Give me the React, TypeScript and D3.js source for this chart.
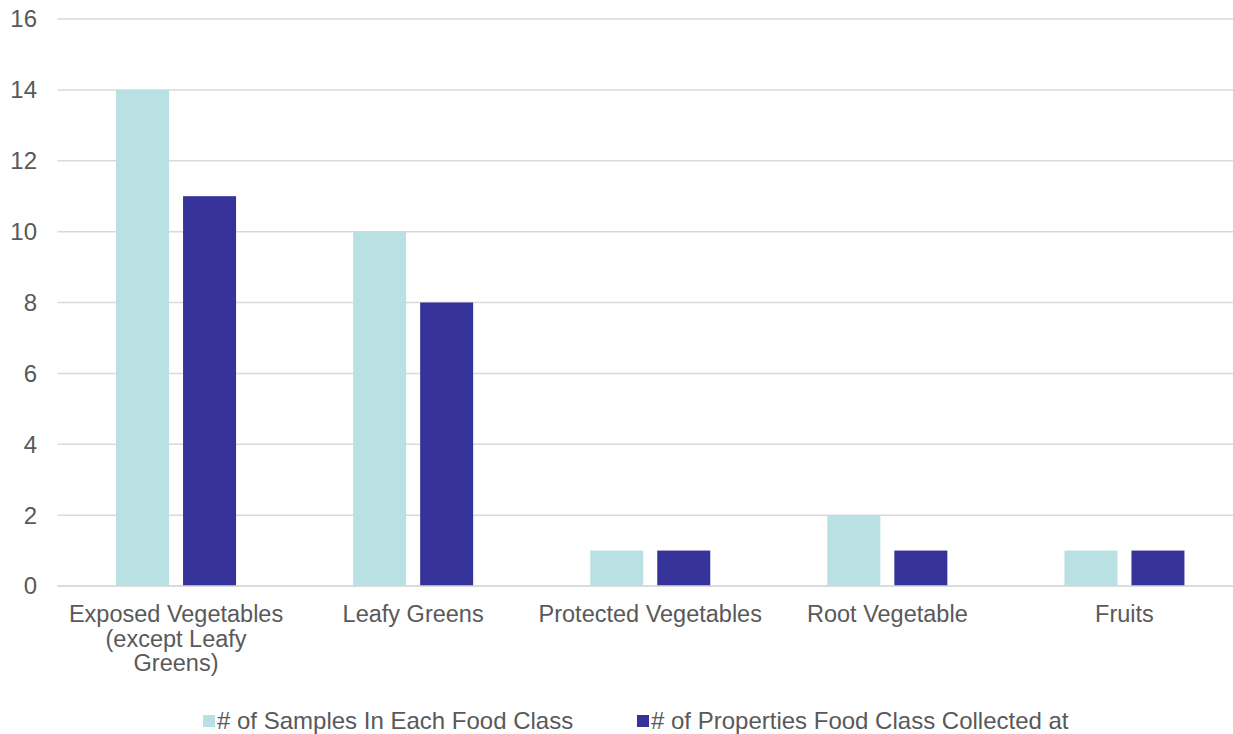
import React from "react";
import * as d3 from "d3";

const categories = [
  ["Exposed Vegetables", "(except Leafy", "Greens)"],
  ["Leafy Greens"],
  ["Protected Vegetables"],
  ["Root Vegetable"],
  ["Fruits"],
];
const seriesNames = ["# of Samples In Each Food Class", "# of Properties Food Class Collected at"];
const samples = [14, 10, 1, 2, 1];
const properties = [11, 8, 1, 1, 1];
const yTicks = [0, 2, 4, 6, 8, 10, 12, 14, 16];
const colors = ["#B9E0E3", "#35339A"];

export default function App() {
  const W = 1233, H = 734;
  const left = 57.5, right = 1243;
  const y = d3.scaleLinear().domain([0, 16]).range([586, 19]);
  const x = d3.scaleBand().domain(d3.range(5).map(String)).range([left, right]);
  const step = x.step();
  const barW = 53, gap = 14;
  const series = [samples, properties];
  const font = "'Liberation Sans', Arial, sans-serif";
  return (
    <svg width={W} height={H} style={{ position: "absolute", left: 0, top: 0, background: "#fff" }} fontFamily={font}>
      {yTicks.map((t) => (
        <g key={t}>
          <line x1={left} x2={W} y1={y(t)} y2={y(t)} stroke="#D9D9D9" strokeWidth={1.5} />
          <text x={37} y={y(t)} dy="0.35em" textAnchor="end" fontSize={24} fill="#595959">{t}</text>
        </g>
      ))}
      {categories.map((c, i) => {
        const cx = (x(String(i)) as number) + step / 2;
        return (
          <g key={i}>
            {series.map((s, k) => {
              const bx = cx - gap / 2 - barW + k * (barW + gap);
              return (
                <rect key={k} x={bx} y={y(s[i])} width={barW} height={y(0) - y(s[i])} fill={colors[k]} />
              );
            })}
            {c.map((line, j) => (
              <text key={j} x={cx} y={622 + j * 24.5} textAnchor="middle" fontSize={23.5} fill="#595959">{line}</text>
            ))}
          </g>
        );
      })}
      <line x1={left} x2={W} y1={y(0)} y2={y(0)} stroke="#D9D9D9" strokeWidth={1.5} />
      {seriesNames.map((n, k) => {
        const lx = [203, 637][k];
        return (
          <g key={k}>
            <rect x={lx} y={715} width={12} height={12} fill={colors[k]} />
            <text x={lx + 14} y={721} dy="0.35em" fontSize={24} fill="#595959">{n}</text>
          </g>
        );
      })}
    </svg>
  );
}
